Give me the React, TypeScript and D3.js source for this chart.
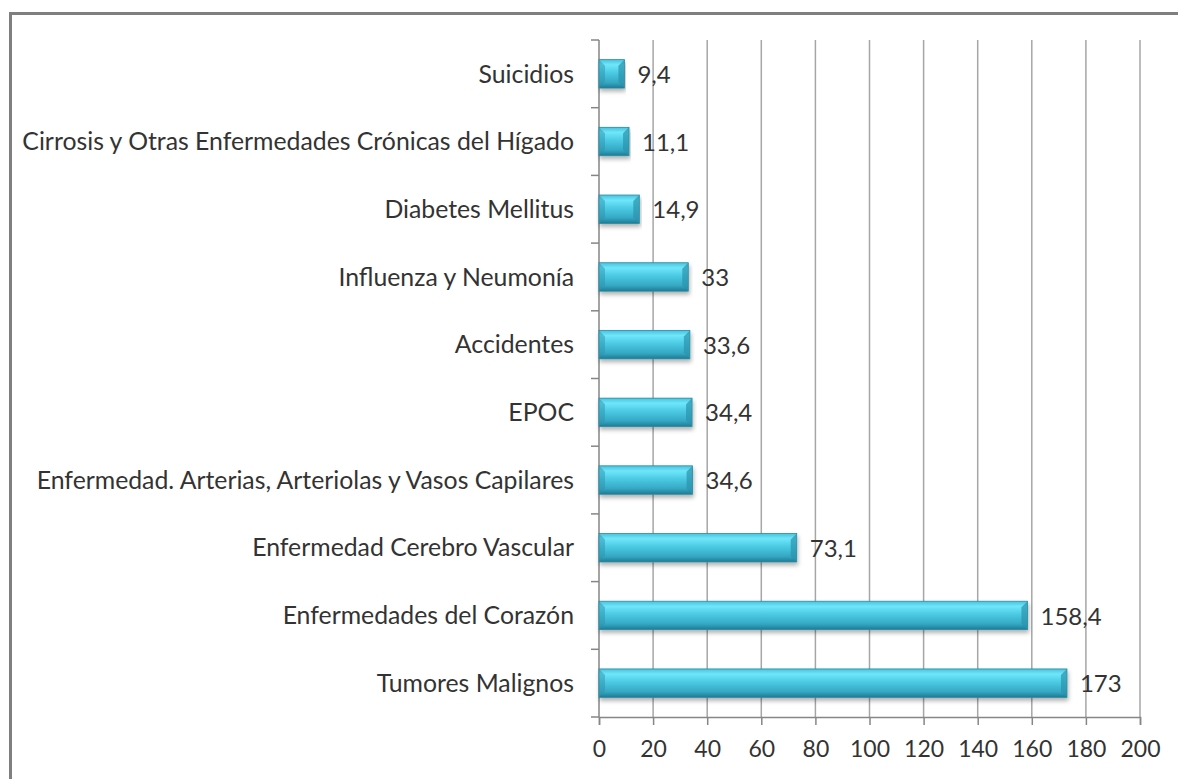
import * as d3 from 'd3';
import { useEffect, useRef } from 'react';

// Data (top to bottom as drawn)
const categories = [
  'Suicidios',
  'Cirrosis y Otras Enfermedades Crónicas del Hígado',
  'Diabetes Mellitus',
  'Influenza y Neumonía',
  'Accidentes',
  'EPOC',
  'Enfermedad. Arterias, Arteriolas y Vasos Capilares',
  'Enfermedad Cerebro Vascular',
  'Enfermedades del Corazón',
  'Tumores Malignos',
];
const values = [9.4, 11.1, 14.9, 33, 33.6, 34.4, 34.6, 73.1, 158.4, 173];
const xTicks = [0, 20, 40, 60, 80, 100, 120, 140, 160, 180, 200];

const FONT = 'Lato, "Open Sans", sans-serif';

export default function App() {
  const svgCur = useRef<SVGSVGElement | null>(null);

  useEffect(() => {
    const width = 1178;
    const height = 779;
    const margin = { top: 42, right: 38, bottom: 62, left: 599 };
    if (!svgCur.current) return;

    const svg = d3.select(svgCur.current)
      .attr('width', width)
      .attr('height', height);
    svg.selectAll('*').remove();

    const defs = svg.append('defs');
    const grad = defs.append('linearGradient')
      .attr('id', 'barGrad')
      .attr('x1', 0).attr('y1', 0).attr('x2', 0).attr('y2', 1);
    grad.append('stop').attr('offset', '0%').attr('stop-color', '#48c3dd');
    grad.append('stop').attr('offset', '18%').attr('stop-color', '#6fe6fa');
    grad.append('stop').attr('offset', '45%').attr('stop-color', '#4ccbe4');
    grad.append('stop').attr('offset', '80%').attr('stop-color', '#35a8c4');
    grad.append('stop').attr('offset', '100%').attr('stop-color', '#1f7a92');

    const shadow = defs.append('filter').attr('id', 'shadow')
      .attr('x', '-5%').attr('y', '-30%').attr('width', '110%').attr('height', '180%');
    shadow.append('feDropShadow')
      .attr('dx', 1).attr('dy', 3).attr('stdDeviation', 2)
      .attr('flood-color', '#000').attr('flood-opacity', 0.3);

    // frame
    svg.append('rect')
      .attr('x', 10.5).attr('y', 13.5)
      .attr('width', width + 20).attr('height', height + 20)
      .attr('fill', '#fff')
      .attr('stroke', '#7f7f7f')
      .attr('stroke-width', 3);

    const x = d3.scaleLinear().domain([0, 200]).range([margin.left, width - margin.right]);
    const y = d3.scaleBand().domain(categories)
      .range([margin.top - 2, height - margin.bottom])
      .paddingInner(0.58).paddingOuter(0.29);

    const yTop = margin.top - 2;
    const yBot = height - margin.bottom;

    // grid
    svg.append('g')
      .selectAll('line')
      .data(xTicks.slice(1))
      .join('line')
      .attr('x1', (d) => x(d)).attr('x2', (d) => x(d))
      .attr('y1', yTop).attr('y2', yBot)
      .attr('stroke', '#a6a6a6')
      .attr('stroke-width', 1.5);

    // x axis
    const xAxis = d3.axisBottom(x).tickValues(xTicks).tickSize(8).tickFormat((d) => String(d));
    svg.append('g')
      .attr('transform', `translate(0,${yBot})`)
      .call(xAxis)
      .call((g) => g.select('.domain').attr('stroke', '#868686').attr('stroke-width', 1.5))
      .call((g) => g.selectAll('.tick line').attr('stroke', '#868686').attr('stroke-width', 1.5))
      .call((g) => g.selectAll('text')
        .attr('fill', '#333')
        .attr('font-family', FONT)
        .attr('font-size', 23)
        .attr('y', 24)
        .attr('dy', '0.71em'));

    // y axis
    const step = y.step();
    const boundaries = d3.range(categories.length + 1).map((i) => yTop + i * step);
    svg.append('line')
      .attr('x1', margin.left).attr('x2', margin.left)
      .attr('y1', yTop).attr('y2', yBot)
      .attr('stroke', '#868686').attr('stroke-width', 1.5);
    svg.append('g')
      .selectAll('line')
      .data(boundaries)
      .join('line')
      .attr('x1', margin.left - 8).attr('x2', margin.left)
      .attr('y1', (d) => d).attr('y2', (d) => d)
      .attr('stroke', '#868686').attr('stroke-width', 1.5);

    svg.append('g')
      .selectAll('text')
      .data(categories)
      .join('text')
      .attr('x', margin.left - 25)
      .attr('y', (d) => (y(d) ?? 0) + y.bandwidth() / 2)
      .attr('dy', '0.35em')
      .attr('text-anchor', 'end')
      .attr('fill', '#333')
      .attr('font-family', FONT)
      .attr('font-size', 24.8)
      .text((d) => d);

    // bars
    const bars = svg.append('g');
    bars.selectAll('rect')
      .data(values)
      .join('rect')
      .attr('x', x(0))
      .attr('y', (d, i) => y(categories[i]) ?? 0)
      .attr('width', (d) => x(d) - x(0))
      .attr('height', y.bandwidth())
      .attr('fill', 'url(#barGrad)')
      .attr('stroke', '#2a8aa3')
      .attr('stroke-width', 0.8)
      .attr('filter', 'url(#shadow)');

    // bevel at bar ends
    bars.selectAll('path.bevel')
      .data(values)
      .join('path')
      .attr('class', 'bevel')
      .attr('d', (d, i) => {
        const y0 = y(categories[i]) ?? 0;
        const h = y.bandwidth();
        const x1 = x(d);
        const b = Math.min(6, (x1 - x(0)) / 3);
        return `M${x1},${y0} L${x1 - b},${y0 + b} L${x1 - b},${y0 + h - b} L${x1},${y0 + h} Z`;
      })
      .attr('fill', '#2b93ad')
      .attr('opacity', 0.7);

    bars.selectAll('path.bevelL')
      .data(values)
      .join('path')
      .attr('class', 'bevelL')
      .attr('d', (d, i) => {
        const y0 = y(categories[i]) ?? 0;
        const h = y.bandwidth();
        const x0 = x(0);
        const b = Math.min(6, (x(d) - x0) / 3);
        return `M${x0},${y0} L${x0 + b},${y0 + b} L${x0 + b},${y0 + h - b} L${x0},${y0 + h} Z`;
      })
      .attr('fill', '#2b93ad')
      .attr('opacity', 0.5);

    // value labels
    svg.append('g')
      .selectAll('text')
      .data(values)
      .join('text')
      .attr('x', (d) => x(d) + 13)
      .attr('y', (d, i) => (y(categories[i]) ?? 0) + y.bandwidth() / 2)
      .attr('dy', '0.38em')
      .attr('fill', '#333')
      .attr('font-family', FONT)
      .attr('font-size', 24)
      .text((d) => String(d).replace('.', ','));
  }, []);

  return (
    <div style={{ position: 'absolute', left: 0, top: 0 }}>
      <svg ref={svgCur} style={{ display: 'block' }}></svg>
    </div>
  );
}
